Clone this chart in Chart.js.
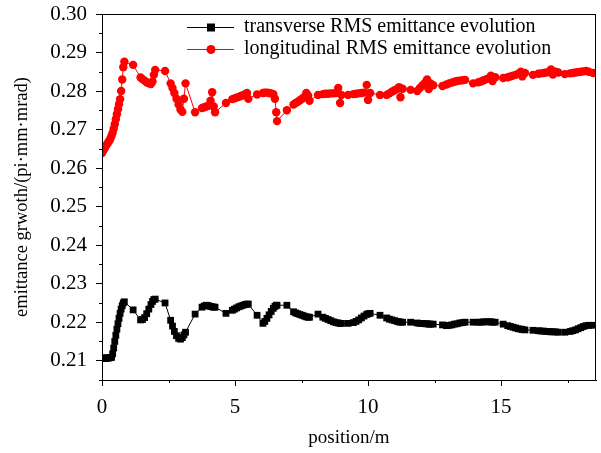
<!DOCTYPE html>
<html>
<head>
<meta charset="utf-8">
<script src="https://cdn.jsdelivr.net/npm/chart.js@4/dist/chart.umd.min.js"></script>
<style>
html,body{margin:0;padding:0;background:#fff;}
#c{display:block;}
</style>
</head>
<body>
<canvas id="c" width="601" height="453"></canvas>
<script>
// ---- data ----
const positions = [
  0.00,0.04,0.08,0.12,0.16,0.20,0.24,0.28,0.32,0.36,0.40,0.44,0.48,0.52,0.56,0.60,0.64,0.68,0.72,0.76,0.80,0.84,
  1.17,
  1.45,1.52,1.60,1.68,1.76,1.84,1.90,1.95,2.00,
  2.37,
  2.58,2.65,2.72,2.80,2.88,2.95,3.02,3.08,3.14,
  3.50,
  3.76,3.84,3.92,4.00,4.08,4.14,4.20,4.25,
  4.66,
  4.90,4.98,5.06,5.14,5.22,5.30,5.38,5.45,5.50,
  5.83,
  6.05,6.12,6.20,6.28,6.36,6.44,6.50,6.55,6.58,
  6.95,
  7.20,7.28,7.36,7.44,7.52,7.60,7.68,7.75,7.80,
  8.12,
  8.30,8.40,8.50,8.60,8.70,8.80,8.88,8.95,9.00,
  9.25,
  9.45,9.55,9.65,9.75,9.85,9.95,10.00,10.08,
  10.45,
  10.70,10.80,10.90,11.00,11.10,11.17,11.22,11.30,
  11.60,
  11.85,11.95,12.05,12.15,12.22,12.28,12.35,12.45,
  12.80,
  12.95,13.05,13.15,13.25,13.35,13.45,13.55,13.65,
  13.95,
  14.15,14.25,14.35,14.45,14.55,14.62,14.68,14.78,
  15.08,
  15.25,15.35,15.45,15.55,15.65,15.75,15.80,15.90,
  16.20,
  16.40,16.50,16.60,16.70,16.80,16.88,16.95,17.05,17.15,
  17.40,
  17.60,17.70,17.80,17.90,18.00,18.10,18.20,18.30,
  18.46
];
const transverse = [
  0.2107,0.2107,0.2106,0.2106,0.2107,0.2107,0.2107,0.2108,0.2108,0.2109,0.2118,0.2133,0.2150,0.2166,0.2182,0.2196,0.2210,0.2223,0.2234,0.2243,0.2250,0.2253,
  0.2232,
  0.2206,0.2207,0.2212,0.2222,0.2234,0.2246,0.2254,0.2259,0.2260,
  0.2250,
  0.2205,0.2190,0.2176,0.2165,0.2158,0.2156,0.2160,0.2167,0.2174,
  0.2221,
  0.2239,0.2242,0.2244,0.2243,0.2241,0.2240,0.2239,0.2239,
  0.2223,
  0.2231,0.2234,0.2237,0.2240,0.2242,0.2244,0.2246,0.2247,0.2247,
  0.2218,
  0.2197,0.2202,0.2210,0.2219,0.2228,0.2236,0.2241,0.2244,0.2244,
  0.2244,
  0.2227,0.2224,0.2222,0.2220,0.2218,0.2216,0.2214,0.2213,0.2213,
  0.2221,
  0.2213,0.2210,0.2207,0.2204,0.2201,0.2199,0.2198,0.2197,0.2197,
  0.2197,
  0.2199,0.2202,0.2206,0.2211,0.2216,0.2220,0.2222,0.2223,
  0.2218,
  0.2211,0.2208,0.2206,0.2204,0.2202,0.2201,0.2200,0.2200,
  0.2200,
  0.2198,0.2197,0.2197,0.2196,0.2196,0.2195,0.2195,0.2195,
  0.2193,
  0.2191,0.2192,0.2193,0.2195,0.2196,0.2198,0.2199,0.2200,
  0.2200,
  0.2200,0.2200,0.2201,0.2201,0.2201,0.2201,0.2200,0.2200,
  0.2195,
  0.2191,0.2189,0.2187,0.2185,0.2183,0.2182,0.2181,0.2180,
  0.2179,
  0.2178,0.2177,0.2177,0.2176,0.2176,0.2175,0.2175,0.2175,0.2174,
  0.2174,
  0.2176,0.2178,0.2180,0.2183,0.2186,0.2189,0.2191,0.2192,
  0.2192
];
const longitudinal = [
  0.2639,0.2644,0.2649,0.2654,0.2659,0.2663,0.2667,0.2672,0.2677,0.2684,0.2692,0.2702,0.2714,0.2727,0.2740,0.2753,0.2766,0.2779,0.2800,0.2830,0.2862,0.2876,
  0.2868,
  0.2835,0.2831,0.2827,0.2823,0.2820,0.2818,0.2825,0.2842,0.2855,
  0.2852,
  0.2820,0.2808,0.2795,0.2780,0.2765,0.2752,0.2746,0.2780,0.2820,
  0.2745,
  0.2756,0.2758,0.2760,0.2762,0.2775,0.2797,0.2760,0.2745,
  0.2769,
  0.2779,0.2781,0.2783,0.2785,0.2787,0.2789,0.2792,0.2795,0.2780,
  0.2791,
  0.2795,0.2796,0.2796,0.2795,0.2794,0.2792,0.2780,0.2745,0.2722,
  0.2750,
  0.2765,0.2769,0.2772,0.2776,0.2780,0.2784,0.2795,0.2788,0.2775,
  0.2790,
  0.2792,0.2793,0.2793,0.2794,0.2794,0.2795,0.2808,0.2769,0.2790,
  0.2790,
  0.2792,0.2793,0.2794,0.2795,0.2796,0.2816,0.2777,0.2795,
  0.2790,
  0.2790,0.2794,0.2798,0.2802,0.2806,0.2810,0.2784,0.2806,
  0.2803,
  0.2800,0.2808,0.2815,0.2822,0.2830,0.2805,0.2820,0.2815,
  0.2813,
  0.2817,0.2820,0.2822,0.2824,0.2826,0.2827,0.2828,0.2829,
  0.2820,
  0.2823,0.2825,0.2828,0.2831,0.2834,0.2840,0.2826,0.2836,
  0.2834,
  0.2836,0.2838,0.2840,0.2842,0.2845,0.2850,0.2838,0.2847,
  0.2842,
  0.2845,0.2846,0.2847,0.2848,0.2849,0.2856,0.2843,0.2850,0.2848,
  0.2844,
  0.2846,0.2847,0.2848,0.2849,0.2850,0.2851,0.2852,0.2850,
  0.2847
];
const seriesNames = ['transverse RMS emittance evolution', 'longitudinal RMS emittance evolution'];
const yTickValues = [0.21,0.22,0.23,0.24,0.25,0.26,0.27,0.28,0.29,0.30];
const yMinorTicks = [0.205,0.215,0.225,0.235,0.245,0.255,0.265,0.275,0.285,0.295];
const xTickValues = [0,5,10,15];
const xMinorTicks = [2.5,7.5,12.5,17.5];
const xTitle = 'position/m';
const yTitle = 'emittance grwoth/(pi\u00B7mm\u00B7mrad)';

// ---- chart ----
const FONT = '"Liberation Serif", "Times New Roman", serif';
const toPts = (ys) => positions.map((x, i) => ({x: x, y: ys[i]}));

const framePlugin = {
  id: 'frame',
  afterDraw(chart) {
    const {ctx, chartArea: a, scales} = chart;
    ctx.save();
    ctx.strokeStyle = '#000';
    ctx.lineWidth = 1;
    ctx.strokeRect(Math.round(a.left) + 0.5, Math.round(a.top) + 0.5, Math.round(a.right - a.left) - 1, Math.round(a.bottom - a.top));
    // minor ticks
    ctx.beginPath();
    yMinorTicks.forEach(v => {
      const y = Math.round(scales.y.getPixelForValue(v)) + 0.5;
      ctx.moveTo(a.left - 3, y); ctx.lineTo(a.left, y);
    });
    xMinorTicks.forEach(v => {
      const x = Math.round(scales.x.getPixelForValue(v)) + 0.5;
      ctx.moveTo(x, a.bottom); ctx.lineTo(x, a.bottom + 3);
    });
    ctx.stroke();
    // legend
    ctx.font = '20px ' + FONT;
    ctx.textBaseline = 'middle';
    ctx.fillStyle = '#000';
    const items = chart.data.datasets;
    const rowY = [27, 49];
    items.forEach((ds, i) => {
      const y = rowY[i];
      ctx.strokeStyle = ds.borderColor;
      ctx.lineWidth = 1;
      ctx.beginPath(); ctx.moveTo(187, y + 0.5); ctx.lineTo(234, y + 0.5); ctx.stroke();
      ctx.fillStyle = ds.pointBackgroundColor;
      if (ds.pointStyle === 'rect') {
        ctx.fillRect(211 - 4, y - 3.5, 8, 8);
      } else {
        ctx.beginPath(); ctx.arc(211, y + 0.5, 4.5, 0, Math.PI * 2); ctx.fill();
      }
      ctx.fillStyle = '#000';
      ctx.textAlign = 'left';
      ctx.fillText(ds.label, 244, y);
    });
    ctx.restore();
  }
};

new Chart(document.getElementById('c'), {
  type: 'line',
  data: {
    datasets: [
      {
        label: seriesNames[0],
        data: toPts(transverse),
        borderColor: '#000000',
        backgroundColor: '#000000',
        pointBackgroundColor: '#000000',
        pointBorderColor: '#000000',
        pointStyle: 'rect',
        pointRadius: 4.8,
        pointBorderWidth: 0,
        borderWidth: 1,
        tension: 0
      },
      {
        label: seriesNames[1],
        data: toPts(longitudinal),
        borderColor: '#ff0000',
        backgroundColor: '#ff0000',
        pointBackgroundColor: '#ff0000',
        pointBorderColor: '#ff0000',
        pointStyle: 'circle',
        pointRadius: 4.2,
        pointBorderWidth: 0,
        borderWidth: 1,
        tension: 0
      }
    ]
  },
  options: {
    responsive: false,
    animation: false,
    devicePixelRatio: 1,
    layout: {padding: {top: 14, right: 5, left: 0, bottom: 0}},
    plugins: {legend: {display: false}, tooltip: {enabled: false}},
    scales: {
      x: {
        type: 'linear',
        min: 0, max: 18.57,
        afterBuildTicks: (s) => { s.ticks = xTickValues.map(v => ({value: v})); },
        afterFit: (s) => { s.height = 73; s.paddingLeft = 0; s.paddingRight = 0; s.paddingTop = 0; s.paddingBottom = 0; },
        grid: {drawOnChartArea: false, drawTicks: true, tickLength: 6, color: '#000', tickColor: '#000'},
        border: {display: true, color: '#000', width: 1},
        ticks: {color: '#000', font: {family: FONT, size: 21}, padding: 9, maxRotation: 0,
                callback: (v) => String(v)},
        title: {display: true, text: xTitle, color: '#000', font: {family: FONT, size: 19}, padding: {top: 0, bottom: 4}}
      },
      y: {
        type: 'linear',
        min: 0.205, max: 0.30,
        afterBuildTicks: (s) => { s.ticks = yTickValues.map(v => ({value: v})); },
        afterFit: (s) => { s.width = 102; s.paddingTop = 0; s.paddingBottom = 0; s.paddingLeft = 0; s.paddingRight = 0; },
        grid: {drawOnChartArea: false, drawTicks: true, tickLength: 6, color: '#000', tickColor: '#000'},
        border: {display: true, color: '#000', width: 1},
        ticks: {color: '#000', font: {family: FONT, size: 21}, padding: 9,
                callback: (v) => Number(v).toFixed(2)},
        title: {display: true, text: yTitle, color: '#000', font: {family: FONT, size: 18.5}, padding: {top: 11, bottom: 0}}
      }
    }
  },
  plugins: [framePlugin]
});
</script>
</body>
</html>
